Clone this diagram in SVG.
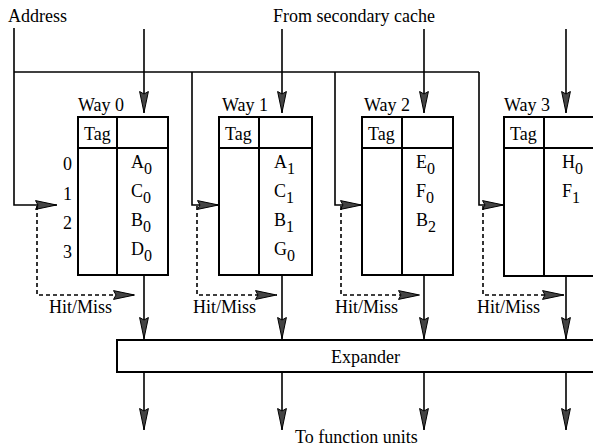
<svg xmlns="http://www.w3.org/2000/svg" width="593" height="446" viewBox="0 0 593 446">
<style>
text { font-family: "Liberation Serif", "Times New Roman", serif; font-size: 18px; fill: #000; }
.sub { font-size: 16px; }
.box { fill: #fff; stroke: #000; stroke-width: 2; }
.div { stroke: #000; stroke-width: 2; fill: none; }
.wire { stroke: #000; stroke-width: 1.6; fill: none; }
.arr { marker-end: url(#ah); }
.dash { stroke: #000; stroke-width: 1.6; fill: none; stroke-dasharray: 4 3; }
</style>
<defs>
<marker id="ah" viewBox="0 0 22 10" refX="22" refY="5" markerWidth="22" markerHeight="10" markerUnits="userSpaceOnUse" orient="auto">
<path d="M0.5,0.6 L21.5,5 L0.5,9.4 L3,5 z" fill="#444" stroke="#000" stroke-width="1"/>
</marker>
</defs>
<rect width="593" height="446" fill="#fff"/>

<text x="8" y="22">Address</text>
<text x="273" y="22">From secondary cache</text>

<g id="way0">
<text x="78" y="111">Way 0</text>
<rect class="box" x="78" y="117" width="90" height="158"/>
<line class="div" x1="78" y1="148" x2="168" y2="148"/>
<line class="div" x1="117" y1="117" x2="117" y2="275"/>
<text x="84" y="140">Tag</text>
<text x="63" y="170">0</text>
<text x="63" y="200">1</text>
<text x="63" y="229">2</text>
<text x="63" y="258">3</text>
<text x="131" y="168">A<tspan class="sub" dy="6">0</tspan></text>
<text x="131" y="197">C<tspan class="sub" dy="6">0</tspan></text>
<text x="131" y="226">B<tspan class="sub" dy="6">0</tspan></text>
<text x="131" y="255">D<tspan class="sub" dy="6">0</tspan></text>
</g>

<g id="way1">
<text x="222" y="111">Way 1</text>
<rect class="box" x="219" y="117" width="93" height="158"/>
<line class="div" x1="219" y1="148" x2="312" y2="148"/>
<line class="div" x1="259" y1="117" x2="259" y2="275"/>
<text x="225" y="140">Tag</text>
<text x="274" y="168">A<tspan class="sub" dy="6">1</tspan></text>
<text x="274" y="197">C<tspan class="sub" dy="6">1</tspan></text>
<text x="274" y="226">B<tspan class="sub" dy="6">1</tspan></text>
<text x="274" y="255">G<tspan class="sub" dy="6">0</tspan></text>
</g>

<g id="way2">
<text x="364" y="111">Way 2</text>
<rect class="box" x="362" y="117" width="91" height="158"/>
<line class="div" x1="362" y1="148" x2="453" y2="148"/>
<line class="div" x1="402" y1="117" x2="402" y2="275"/>
<text x="368" y="140">Tag</text>
<text x="416" y="168">E<tspan class="sub" dy="6">0</tspan></text>
<text x="416" y="197">F<tspan class="sub" dy="6">0</tspan></text>
<text x="416" y="226">B<tspan class="sub" dy="6">2</tspan></text>
</g>

<g id="way3">
<text x="504" y="111">Way 3</text>
<rect class="box" x="504" y="117" width="100" height="159"/>
<line class="div" x1="504" y1="148" x2="604" y2="148"/>
<line class="div" x1="544" y1="117" x2="544" y2="276"/>
<text x="510" y="140">Tag</text>
<text x="562" y="168">H<tspan class="sub" dy="6">0</tspan></text>
<text x="562" y="197">F<tspan class="sub" dy="6">1</tspan></text>
</g>

<g id="expander">
<rect class="box" x="117" y="340" width="490" height="32"/>
<text x="331" y="363">Expander</text>
</g>

<g id="connectors">
<polyline class="wire arr" points="14,28 14,205 57,205"/>
<line class="wire" x1="14" y1="72" x2="479" y2="72"/>
<polyline class="wire arr" points="192,72 192,205 219,205"/>
<polyline class="wire arr" points="335,72 335,205 362,205"/>
<polyline class="wire arr" points="479,72 479,205 504,205"/>

<line class="wire arr" x1="144" y1="29" x2="144" y2="113"/>
<line class="wire arr" x1="282" y1="29" x2="282" y2="113"/>
<line class="wire arr" x1="424" y1="29" x2="424" y2="113"/>
<line class="wire arr" x1="566" y1="29" x2="566" y2="113"/>

<polyline class="dash arr" points="37,206 37,295 135,295"/>
<polyline class="dash arr" points="197,206 197,295 277,295"/>
<polyline class="dash arr" points="341,206 341,295 420,295"/>
<polyline class="dash arr" points="483,206 483,295 564,295"/>

<line class="wire arr" x1="144" y1="276" x2="144" y2="339"/>
<line class="wire arr" x1="282" y1="276" x2="282" y2="339"/>
<line class="wire arr" x1="424" y1="276" x2="424" y2="339"/>
<line class="wire arr" x1="566" y1="277" x2="566" y2="339"/>

<line class="wire arr" x1="144" y1="373" x2="144" y2="430"/>
<line class="wire arr" x1="282" y1="373" x2="282" y2="430"/>
<line class="wire arr" x1="424" y1="373" x2="424" y2="430"/>
<line class="wire arr" x1="566" y1="373" x2="566" y2="430"/>
</g>

<text x="49" y="313">Hit/Miss</text>
<text x="193" y="313">Hit/Miss</text>
<text x="335" y="313">Hit/Miss</text>
<text x="477" y="313">Hit/Miss</text>
<text x="295" y="443">To function units</text>
</svg>
